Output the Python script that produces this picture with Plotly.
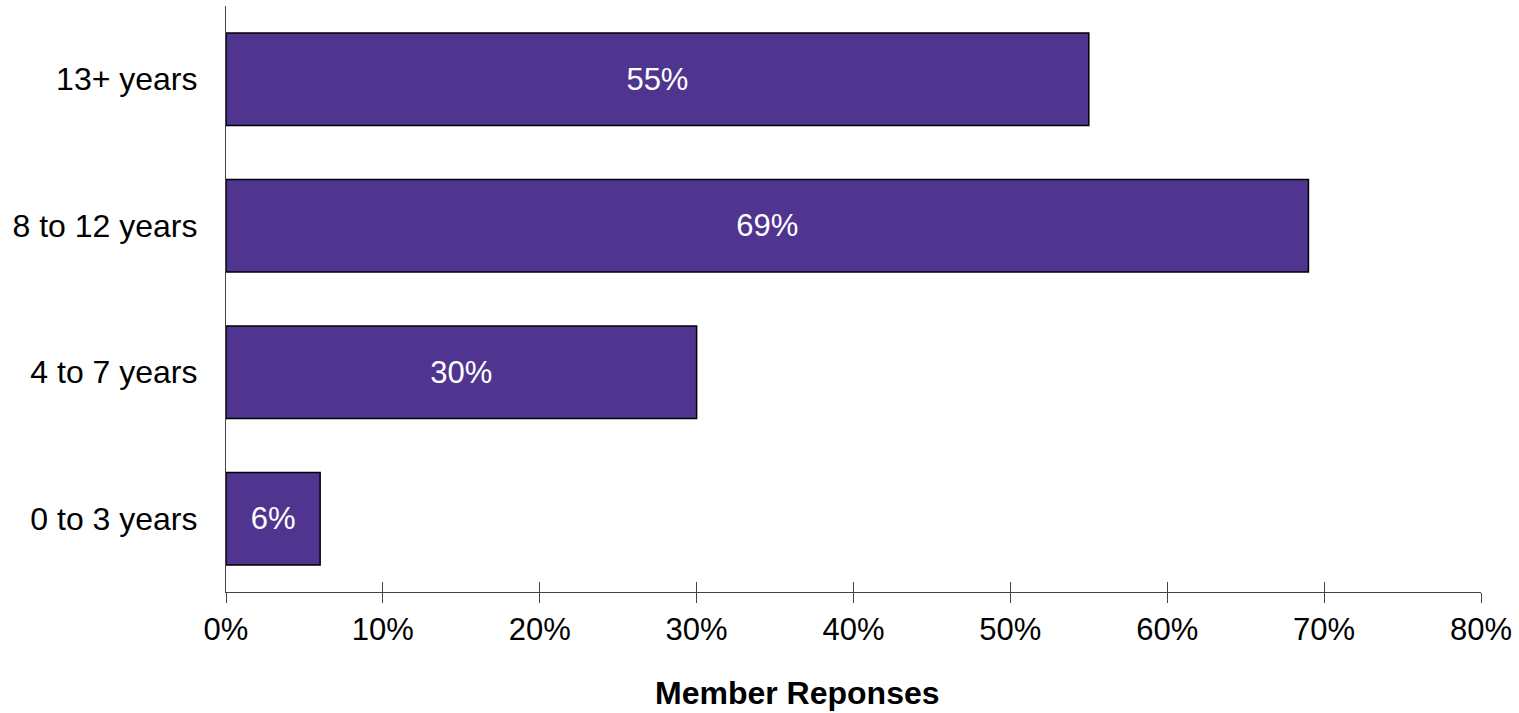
import plotly.graph_objects as go

# dados
categorias = ['0 to 3 years', '4 to 7 years', '8 to 12 years', '13+ years']
respostas = [6, 30, 69, 55]
rotulos = ['6%', '30%', '69%', '55%']
ticks_x = [0, 10, 20, 30, 40, 50, 60, 70, 80]
ticks_x_texto = ['0%', '10%', '20%', '30%', '40%', '50%', '60%', '70%', '80%']

fonte = 'Liberation Sans, Arial, sans-serif'

fig = go.Figure()

fig.add_trace(go.Bar(
    x=respostas,
    y=categorias,
    orientation='h',
    width=0.63,
    marker=dict(color='#4F358F', line=dict(color='#000000', width=1.5)),
    text=rotulos,
    textposition='inside',
    insidetextanchor='middle',
    textfont=dict(color='white', size=31, family=fonte),
    hoverinfo='skip',
))

# eixo auxiliar só para os ticks que cruzam a linha do eixo
fig.add_trace(go.Scatter(x=[0], y=[0], xaxis='x2', mode='markers',
                         marker=dict(opacity=0), showlegend=False, hoverinfo='skip'))

fig.update_layout(
    width=1519,
    height=713,
    margin=dict(l=226, r=38, t=6, b=121, autoexpand=False),
    plot_bgcolor='white',
    paper_bgcolor='white',
    showlegend=False,
    font=dict(family=fonte, size=31, color='#000000'),
    xaxis=dict(
        range=[0, 80],
        tickvals=ticks_x,
        ticktext=ticks_x_texto,
        ticks='outside',
        ticklen=10,
        tickwidth=1.2,
        tickcolor='#444444',
        showline=True,
        linecolor='#444444',
        linewidth=1.2,
        showgrid=False,
        zeroline=False,
        tickfont=dict(size=31),
    ),
    xaxis2=dict(
        range=[0, 80],
        overlaying='x',
        side='bottom',
        anchor='y',
        tickvals=ticks_x,
        ticks='inside',
        ticklen=10,
        tickwidth=1.2,
        tickcolor='#444444',
        showticklabels=False,
        showgrid=False,
        zeroline=False,
    ),
    yaxis=dict(
        range=[-0.5, 3.5],
        categoryorder='array',
        categoryarray=categorias,
        showline=True,
        linecolor='#444444',
        linewidth=1.2,
        ticks='',
        showgrid=False,
        zeroline=False,
        ticklabelstandoff=21,
        tickfont=dict(size=32),
    ),
)

# título do eixo x (no original não fica centrado na área do gráfico)
fig.add_annotation(
    text='<b>Member Reponses</b>',
    xref='paper', yref='paper',
    x=0.455, y=-0.172,
    xanchor='center', yanchor='middle',
    showarrow=False,
    font=dict(size=32, family=fonte, color='#000000'),
)

# tira a margem padrão do body para o gráfico ocupar a janela toda
fig.write_html('out.html', config={'displayModeBar': False},
               post_script="document.body.style.margin='0';")
